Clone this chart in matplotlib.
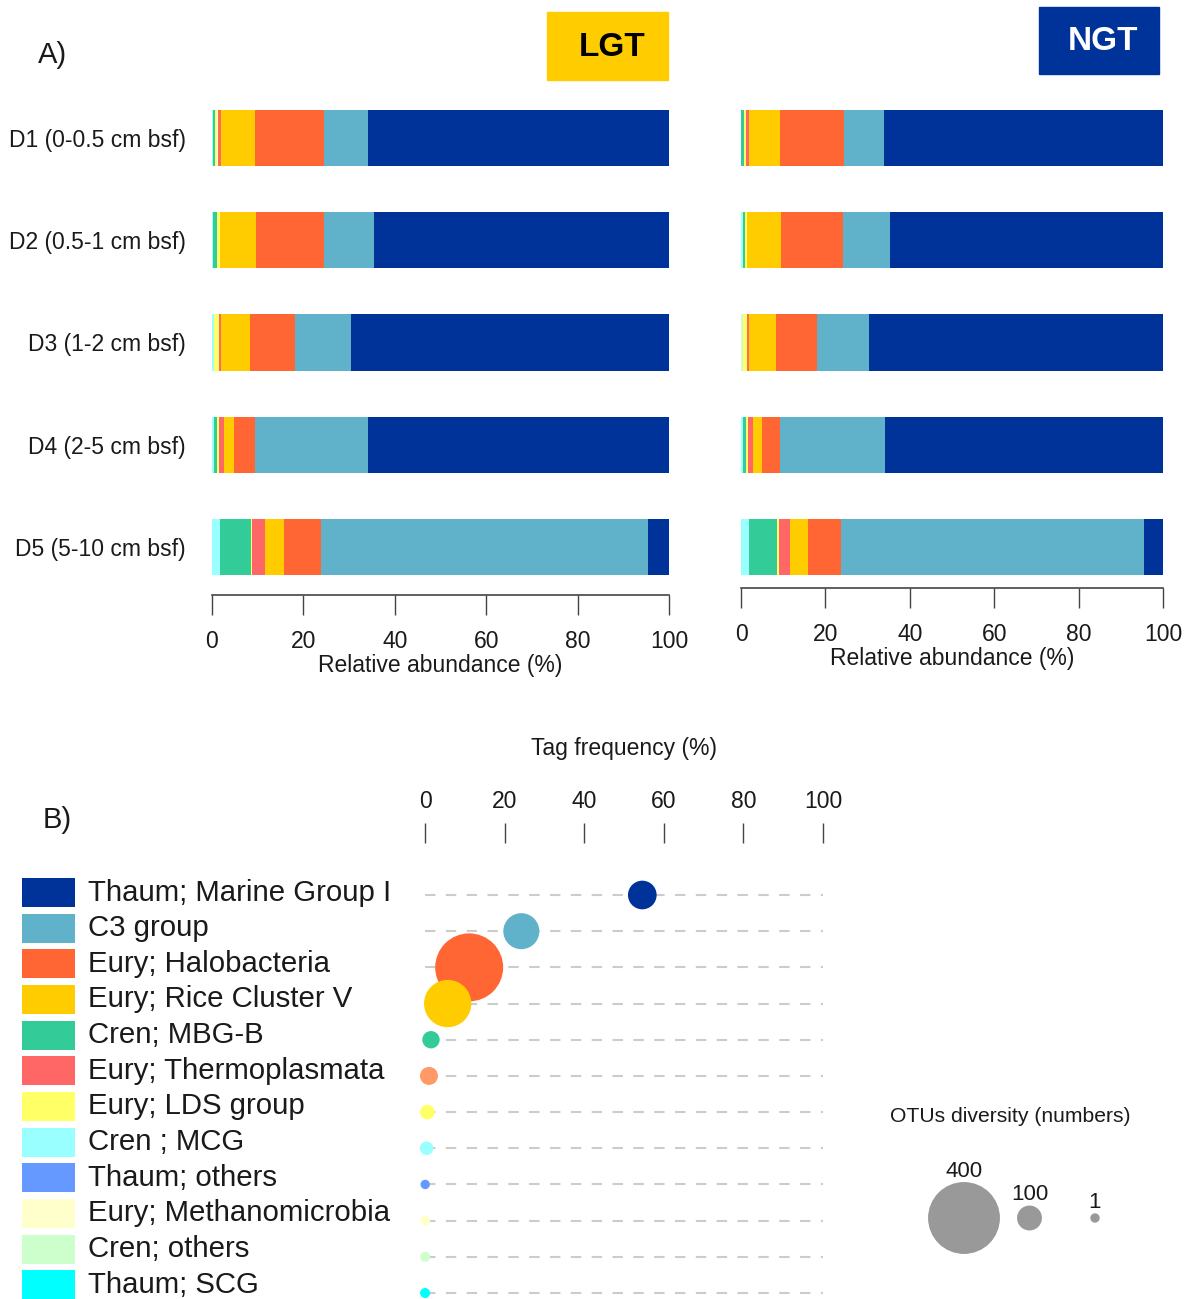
import matplotlib.pyplot as plt
import matplotlib.patches as mpatches
import numpy as np

plt.rcParams['font.family'] = ['Liberation Sans', 'DejaVu Sans']
plt.rcParams['text.color'] = '#1a1a1a'

W, H = 1189, 1299

depths = ['D1 (0-0.5 cm bsf)', 'D2 (0.5-1 cm bsf)', 'D3 (1-2 cm bsf)',
          'D4 (2-5 cm bsf)', 'D5 (5-10 cm bsf)']

groups = ['Thaum; Marine Group I', 'C3 group', 'Eury; Halobacteria',
          'Eury; Rice Cluster V', 'Cren; MBG-B', 'Eury; Thermoplasmata',
          'Eury; LDS group', 'Cren ; MCG', 'Thaum; others',
          'Eury; Methanomicrobia', 'Cren; others', 'Thaum; SCG']
colors = ['#003399', '#60B2CA', '#FF6633', '#FFCC00', '#33CC99', '#FF6666',
          '#FFFF66', '#99FFFF', '#6699FF', '#FFFFCC', '#CCFFCC', '#00FFFF']
bubble_colors = ['#003399', '#60B2CA', '#FF6633', '#FFCC00', '#33CC99',
                 '#FF9966', '#FFFF66', '#99FFFF', '#6699FF', '#FFFFCC',
                 '#CCFFCC', '#00FFFF']

# LGT relative abundance (%), D1..D5
lgt_mgi = [65.9, 64.6, 69.5, 65.8, 4.5]
lgt_c3 = [9.5, 10.9, 12.4, 24.8, 71.7]
lgt_halo = [15.3, 14.9, 9.8, 4.5, 7.9]
lgt_rice = [7.3, 7.8, 6.4, 2.2, 4.2]
lgt_mbgb = [0.6, 1.0, 0.0, 0.7, 6.7]
lgt_thermo = [0.6, 0.0, 0.3, 1.1, 2.8]
lgt_lds = [0.3, 0.6, 1.1, 0.4, 0.35]
lgt_mcg = [0.15, 0.2, 0.5, 0.5, 1.8]
lgt_thaum_oth = [0.0, 0.0, 0.0, 0.0, 0.0]
lgt_methano = [0.35, 0.0, 0.0, 0.0, 0.0]
lgt_cren_oth = [0.0, 0.0, 0.0, 0.0, 0.0]
lgt_scg = [0.0, 0.0, 0.0, 0.0, 0.0]

# NGT relative abundance (%), D1..D5
ngt_mgi = [66.2, 64.6, 69.6, 65.8, 4.5]
ngt_c3 = [9.4, 11.2, 12.3, 25.0, 71.7]
ngt_halo = [15.2, 14.7, 9.8, 4.3, 7.9]
ngt_rice = [7.3, 8.0, 6.4, 2.1, 4.3]
ngt_mbgb = [0.7, 0.55, 0.0, 0.8, 6.6]
ngt_thermo = [0.8, 0.0, 0.4, 1.2, 2.7]
ngt_lds = [0.4, 0.55, 1.1, 0.4, 0.4]
ngt_mcg = [0.0, 0.4, 0.0, 0.4, 1.9]
ngt_thaum_oth = [0.0, 0.0, 0.0, 0.0, 0.0]
ngt_methano = [0.0, 0.0, 0.0, 0.0, 0.0]
ngt_cren_oth = [0.0, 0.0, 0.4, 0.0, 0.0]
ngt_scg = [0.0, 0.0, 0.0, 0.0, 0.0]

# B) tag frequency (%) and number of OTUs, in legend order
tag_freq = [54.6, 24.2, 11.1, 5.7, 1.5, 1.0, 0.6, 0.4, 0.05, 0.05, 0.05, 0.02]
otu_num = [124, 171, 375, 243, 52, 56, 34, 27, 1, 5, 5, 5]
otu_legend = [400, 100, 1]

TXT = '#1a1a1a'
AX = '#444444'


def px_axes(fig, left, top, right, bottom):
    return fig.add_axes([left / W, 1 - bottom / H,
                         (right - left) / W, (bottom - top) / H])


def bubble_size(n):
    r = 4.7 + 0.0783 * (np.asarray(n) - 1)   # radius in px
    return (2 * r * 0.72) ** 2


def draw_bars(ax, parts, bottom_px, labels):
    y = np.arange(len(depths))
    left = np.zeros(len(depths))
    for vals, col in parts:
        ax.barh(y, vals, left=left, height=0.548, color=col, linewidth=0)
        left += np.array(vals)
    ax.set_xlim(0, 100)
    ax.set_ylim(4 + (bottom_px - 547) / 102.25, -38 / 102.25)
    for s in ['top', 'left', 'right']:
        ax.spines[s].set_visible(False)
    ax.spines['bottom'].set_color(AX)
    ax.spines['bottom'].set_linewidth(1.2)
    ax.set_xticks(range(0, 101, 20))
    ax.tick_params(axis='x', direction='out', length=14.4, width=1,
                   color=AX, labelsize=16.5, pad=10.5, labelcolor=TXT)
    if labels:
        ax.set_yticks(y)
        ax.set_yticklabels(depths, fontsize=16.5)
        ax.tick_params(axis='y', length=0, pad=19, labelcolor=TXT)
    else:
        ax.set_yticks([])
    ax.set_xlabel('Relative abundance (%)', fontsize=16.5, labelpad=1,
                  color=TXT)


fig = plt.figure(figsize=(W / 100, H / 100), dpi=100)

lgt_parts = [(lgt_scg, colors[11]), (lgt_cren_oth, colors[10]),
             (lgt_thaum_oth, colors[8]), (lgt_mcg, colors[7]),
             (lgt_mbgb, colors[4]), (lgt_lds, colors[6]),
             (lgt_methano, colors[9]), (lgt_thermo, colors[5]),
             (lgt_rice, colors[3]), (lgt_halo, colors[2]),
             (lgt_c3, colors[1]), (lgt_mgi, colors[0])]
ngt_parts = [(ngt_scg, colors[11]), (ngt_cren_oth, colors[10]),
             (ngt_thaum_oth, colors[8]), (ngt_mcg, colors[7]),
             (ngt_mbgb, colors[4]), (ngt_lds, colors[6]),
             (ngt_methano, colors[9]), (ngt_thermo, colors[5]),
             (ngt_rice, colors[3]), (ngt_halo, colors[2]),
             (ngt_c3, colors[1]), (ngt_mgi, colors[0])]

ax1 = px_axes(fig, 212, 100, 669, 595)
draw_bars(ax1, lgt_parts, 595, True)
ax2 = px_axes(fig, 741, 100, 1163, 588)
draw_bars(ax2, ngt_parts, 588, False)

# site headers
fig.patches.append(mpatches.Rectangle((547 / W, 1 - 80 / H), 121 / W, 68 / H,
                                      transform=fig.transFigure,
                                      color='#FFCC00', zorder=0))
fig.text(612 / W, 1 - 47 / H, 'LGT', ha='center', va='center',
         fontsize=24, fontweight='bold', color='black')
fig.patches.append(mpatches.Rectangle((1039 / W, 1 - 74 / H), 120 / W,
                                      67 / H, transform=fig.transFigure,
                                      color='#003399', zorder=0))
fig.text(1103 / W, 1 - 41 / H, 'NGT', ha='center', va='center',
         fontsize=24, fontweight='bold', color='white')

fig.text(52 / W, 1 - 55 / H, 'A)', ha='center', va='center', fontsize=21)
fig.text(57 / W, 1 - 820 / H, 'B)', ha='center', va='center', fontsize=21)

# B) bubble panel
rows = np.arange(len(groups))
ax3 = px_axes(fig, 425, 843, 823, 1299)
ax3.set_xlim(0, 100)
ax3.set_ylim(11 + 6 / 36.18, -52 / 36.18)
ax3.hlines(rows, 0, 100, colors='#CCCCCC', linestyles=(0, (5, 5)),
           linewidth=1.5, zorder=1)
ax3.scatter(tag_freq, rows, s=bubble_size(otu_num), c=bubble_colors,
            linewidths=0, zorder=3, clip_on=False)
for s in ax3.spines.values():
    s.set_visible(False)
ax3.xaxis.tick_top()
ax3.set_xticks(range(0, 101, 20))
ax3.set_yticks([])
ax3.tick_params(axis='x', direction='out', length=14.4, width=1, color=AX,
                labelsize=16.5, pad=7, labelcolor=TXT)
fig.text(624 / W, 1 - 749 / H, 'Tag frequency (%)', ha='center',
         va='center', fontsize=16.5)

# colour legend
ax4 = px_axes(fig, 22, 843, 75, 1299)
ax4.barh(rows, 1, height=0.813, color=colors, linewidth=0)
ax4.set_xlim(0, 1)
ax4.set_ylim(11 + 14.3 / 35.65, -49.5 / 35.65)
ax4.axis('off')
for i, g in enumerate(groups):
    ax4.text(66 / 53, i, g, va='center', ha='left', fontsize=21.2,
             clip_on=False)

# size legend
ax5 = px_axes(fig, 900, 1140, 1140, 1296)
ax5.set_xlim(-64 / 65.5, 2 + 45 / 65.5)
ax5.set_ylim(-1, 1)
ax5.axis('off')
lx = np.arange(len(otu_legend))
ax5.scatter(lx, np.zeros(len(lx)), s=bubble_size(otu_legend), c='#999999',
            linewidths=0, clip_on=False)
for x, n in zip(lx, otu_legend):
    r_pt = np.sqrt(bubble_size(n)) / 2
    ax5.annotate(str(n), (x, 0), xytext=(0, r_pt + 4), textcoords='offset points',
                 ha='center', va='baseline', fontsize=16)
fig.text(1010 / W, 1 - 1117 / H, 'OTUs diversity (numbers)', ha='center',
         va='center', fontsize=15.2)

fig.savefig('out.png', dpi=100)
